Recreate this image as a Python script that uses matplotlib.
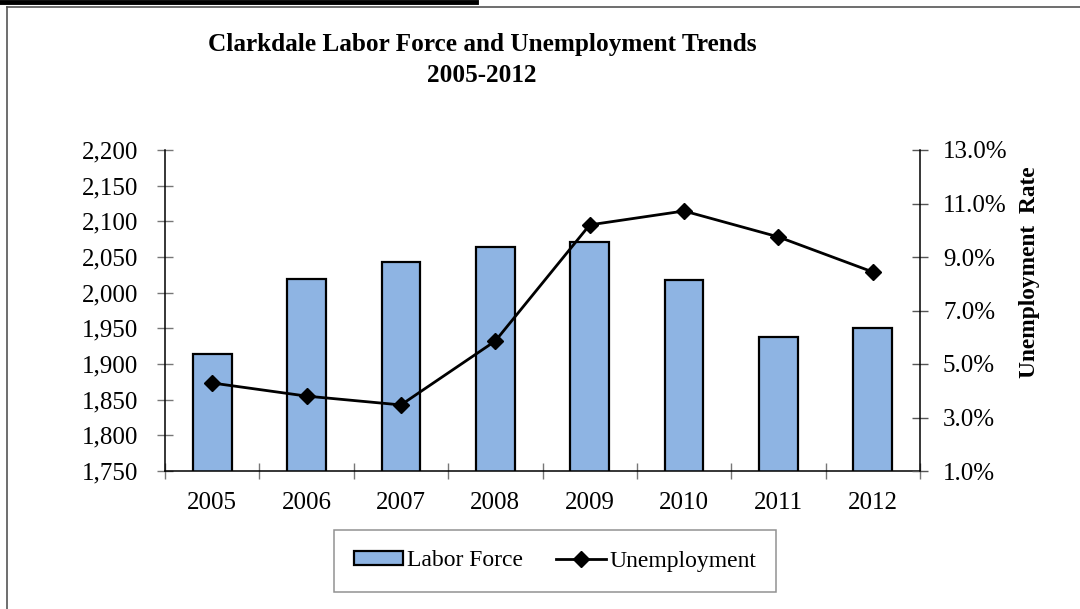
import matplotlib
matplotlib.use('Agg')
import matplotlib.pyplot as plt
from matplotlib.lines import Line2D
from matplotlib.ticker import FuncFormatter, MultipleLocator

# values
years = ['2005', '2006', '2007', '2008', '2009', '2010', '2011', '2012']
labor_force = [1914, 2019, 2043, 2064, 2071, 2018, 1938, 1950]
unemployment = [4.29, 3.80, 3.47, 5.86, 10.2, 10.72, 9.75, 8.44]
rate_ticks = [1, 3, 5, 7, 9, 11, 13]

plt.rcParams['font.family'] = ['Liberation Serif', 'DejaVu Serif']

W, H = 1080, 609
fig = plt.figure(figsize=(W / 100, H / 100), dpi=100)

# page frame lines
fig.add_artist(Line2D([0, 476 / W], [1 - 2 / H, 1 - 2 / H], color='black', lw=3.5))
fig.add_artist(Line2D([7 / W, 1], [1 - 6.5 / H, 1 - 6.5 / H], color='#555555', lw=1.2))
fig.add_artist(Line2D([7 / W, 7 / W], [0, 1 - 6.5 / H], color='#555555', lw=1.2))

ax = fig.add_axes([165 / W, 1 - 471 / H, 755 / W, 321 / H])
x = list(range(len(years)))
bars = ax.bar(x, labor_force, width=0.41, color='#8EB4E3', edgecolor='black',
              linewidth=1.6, label='Labor Force', zorder=2)
ax.set_ylim(1750, 2200)
ax.set_xlim(-0.5, len(years) - 0.5)
ax.yaxis.set_major_locator(MultipleLocator(50))
ax.yaxis.set_major_formatter(FuncFormatter(lambda v, p: f'{v:,.0f}'))
ax.set_xticks([i + 0.5 for i in range(-1, len(years))], minor=False)
ax.set_xticklabels([])
ax.set_xticks(x, minor=True)
ax.set_xticklabels(years, minor=True)
ax.tick_params(axis='x', which='major', direction='inout', length=11, width=1, color='#777777')
ax.tick_params(axis='x', which='minor', length=0, pad=15, labelsize=18)
ax.tick_params(axis='y', direction='inout', length=11, width=1, color='#777777',
               pad=14, labelsize=18)
ax.spines['top'].set_visible(False)
ax.spines['right'].set_visible(False)
for s in ('left', 'bottom'):
    ax.spines[s].set_linewidth(1.1)

ax2 = ax.twinx()
line, = ax2.plot(x, unemployment, color='black', lw=2, marker='D', markersize=8,
                 label='Unemployment', zorder=3)
ax2.set_ylim(1, 13)
ax2.set_yticks(rate_ticks)
ax2.yaxis.set_major_formatter(FuncFormatter(lambda v, p: f'{v:.1f}%'))
ax2.tick_params(axis='y', direction='inout', length=11, width=1, color='#555555',
                pad=11, labelsize=18)
for s in ('top', 'left', 'bottom'):
    ax2.spines[s].set_visible(False)
ax2.spines['right'].set_linewidth(1.1)

fig.text(1030 / W, 1 - 272 / H, 'Unemployment  Rate', rotation=90, ha='center',
         va='center', fontsize=16.8, fontweight='bold')

fig.text(482 / W, 1 - 45 / H, 'Clarkdale Labor Force and Unemployment Trends',
         ha='center', va='center', fontsize=18.2, fontweight='bold')
fig.text(482 / W, 1 - 75 / H, '2005-2012', ha='center', va='center',
         fontsize=18.2, fontweight='bold')

leg = fig.legend([bars, line], ['Labor Force', 'Unemployment'], loc='center',
                 bbox_to_anchor=(555 / W, 1 - 561 / H), ncol=2, fontsize=17,
                 frameon=True, fancybox=False, handlelength=2.1, handleheight=0.55,
                 handletextpad=0.15, columnspacing=1.4, borderpad=0.85,
                 borderaxespad=0)
leg.get_frame().set_edgecolor('#777777')
leg.get_frame().set_linewidth(1.1)

fig.savefig('out.png', dpi=100)
